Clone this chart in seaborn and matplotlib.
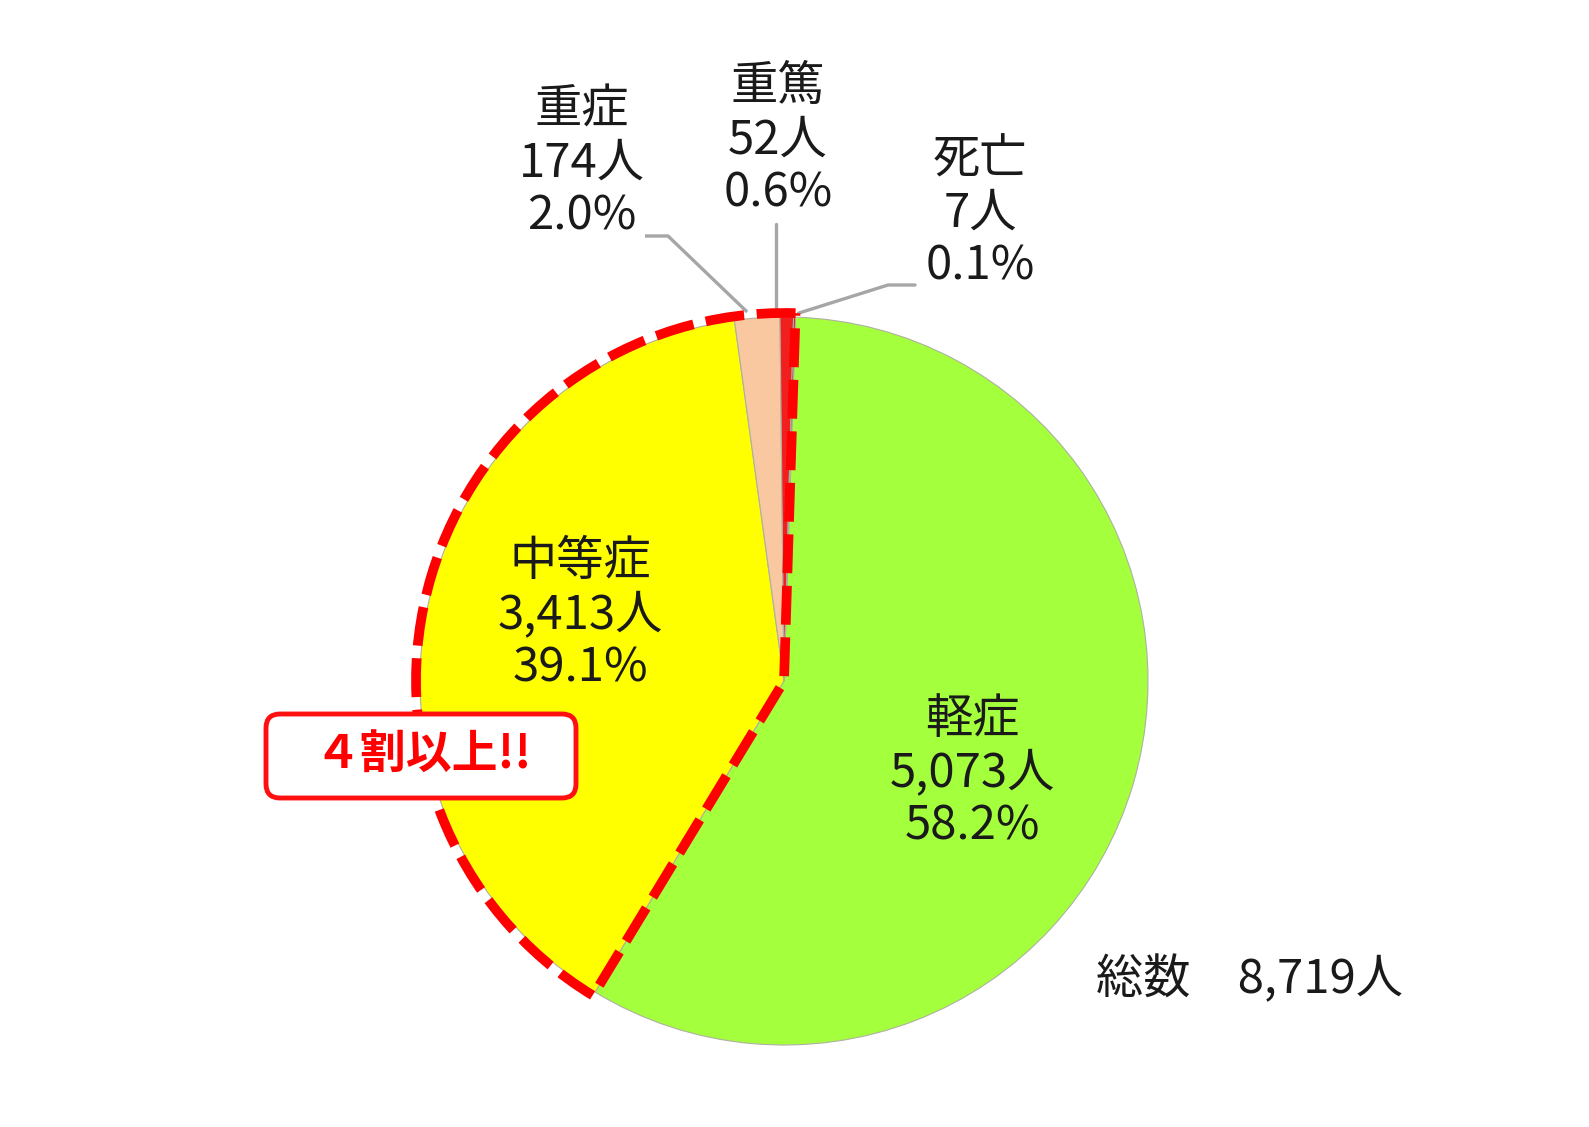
import matplotlib
matplotlib.use("Agg")
import matplotlib.pyplot as plt
import seaborn as sns
import numpy as np
from matplotlib.patches import Wedge, FancyBboxPatch

# data
labels = ["軽症", "中等症", "重症", "重篤", "死亡"]
counts = [5073, 3413, 174, 52, 7]
colors = ["#A4FF3C", "#FFFF00", "#F9C8A0", "#F21F1F", "#C00000"]
total_label = "総数　8,719人"
note_label = "４割以上!!"

sns.set_theme(style="white")
plt.rcParams["font.family"] = ["Noto Sans CJK JP", "DejaVu Sans"]

W, H = 1589, 1127
fig = plt.figure(figsize=(W / 100, H / 100), dpi=100)
ax = fig.add_axes([0, 0, 1, 1])

def py(y):
    # pixel row -> data y
    return H - y

cx, cy, r = 784, py(681), 364
start = 88.2

wedges, _ = ax.pie(counts, colors=colors, startangle=start, counterclock=False,
                   center=(cx, cy), radius=r,
                   wedgeprops=dict(edgecolor="#b0b0a0", linewidth=0.8))
ax.set_xlim(0, W)
ax.set_ylim(0, H)
ax.set_aspect("equal")
ax.axis("off")

total = sum(counts)
pct = [c / total * 100 for c in counts]
texts = [f"{l}\n{c:,}人\n{p:.1f}%" for l, c, p in zip(labels, counts, pct)]

fs = 34
lab_pos = {
    "軽症": (972, 773),
    "中等症": (580, 615),
    "重症": (582, 163),
    "重篤": (778, 140),
    "死亡": (980, 213),
}
for l, t in zip(labels, texts):
    x, y = lab_pos[l]
    ax.text(x, py(y), t, ha="center", va="center", fontsize=fs,
            color="#1a1a1a", linespacing=1.12, zorder=6)

# leader lines for the small slices
def edge_point(w, frac=1.0):
    a = np.deg2rad((w.theta1 + w.theta2) / 2)
    return cx + r * frac * np.cos(a), cy + r * frac * np.sin(a)

gray = "#A6A6A6"
ex, ey = edge_point(wedges[2])
ax.plot([645, 668, ex - 10], [py(236), py(236), ey + 6], color=gray, lw=2.4, zorder=3,
        solid_capstyle="butt")
ex, ey = edge_point(wedges[3])
ax.plot([776, 776], [py(224), ey + 6], color=gray, lw=2.4, zorder=3)
ex, ey = edge_point(wedges[4])
ax.plot([915, 888, ex + 4], [py(285), py(285), ey + 4], color=gray, lw=2.4, zorder=3)

# red dashed outline around the non-mild part (from top, counter-clockwise)
end_angle = min(wedges[0].theta1, wedges[0].theta2) + 360
outline = Wedge((cx, cy), r + 4, start, end_angle, fill=False, edgecolor="#FF0000",
                linewidth=7, linestyle=(0, (4, 1.3)), zorder=4)
ax.add_patch(outline)

# callout box
box = FancyBboxPatch((266, py(798)), 310, 84, boxstyle="round,pad=0,rounding_size=14",
                     facecolor="white", edgecolor="#FF1010", linewidth=3.5, zorder=5)
ax.add_patch(box)
ax.text(423, py(756), note_label, ha="center", va="center", fontsize=33,
        fontweight="bold", color="#FF0000", zorder=6)

ax.text(1096, py(980), total_label, ha="left", va="center", fontsize=fs,
        color="#1a1a1a", zorder=6)

fig.savefig("out.png", dpi=100, facecolor="white")
